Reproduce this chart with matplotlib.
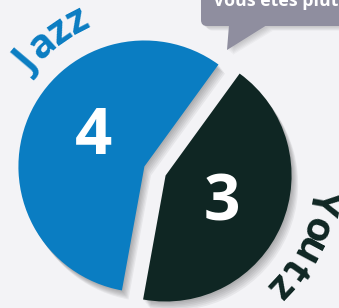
import matplotlib
matplotlib.use("Agg")
import matplotlib.pyplot as plt
from matplotlib.patches import FancyBboxPatch, Polygon
import numpy as np

# ---- data ----
categories = ["Jazz", "Youtz"]
values = [4, 3]
value_labels = ["4", "3"]
bubble_text = "Vous êtes plutôt"

# ---- style ----
colors = ["#0a7dc2", "#0f2623"]
bg = "#f3f3f6"
bubble_col = "#8f8e9f"
W, H = 339, 308

fig = plt.figure(figsize=(W / 100, H / 100), dpi=100, facecolor=bg)
ax = fig.add_axes([0, 0, 1, 1])
ax.set_facecolor(bg)

cx, cy = 155, H - 171
R = 126
start = 54
explode = [11.5, 11.5]  # pie explode offsets are in data units here

# soft drop shadow
for off in [2, 4, 6, 8, 10, 12]:
    ax.pie(values, explode=explode, startangle=start, radius=R,
           center=(cx + off * 0.55, cy - off * 0.75),
           colors=["#000000", "#000000"],
           wedgeprops=dict(alpha=0.05, linewidth=0), frame=True)

wedges, _ = ax.pie(values, explode=explode, startangle=start, radius=R,
                   center=(cx, cy), colors=colors,
                   wedgeprops=dict(linewidth=0), frame=True)

# value labels inside slices
ax.text(93, H - 138, value_labels[0], color="white", fontsize=47,
        fontweight="bold", family="Open Sans", ha="center", va="center")
ax.text(222, H - 204, value_labels[1], color="white", fontsize=46,
        fontweight="bold", family="Open Sans", ha="center", va="center")

# curved category labels
def curved(text, angles, r, color, size):
    for ch, a in zip(text, angles):
        t = np.deg2rad(a)
        ax.text(154 + r * np.cos(t), (H - 170) + r * np.sin(t), ch,
                rotation=a - 90, rotation_mode="anchor", ha="center",
                va="center", color=color, fontsize=size,
                fontweight="bold", family="Open Sans", zorder=6)

curved(categories[0], [139.8, 131.8, 124.4, 117.2], 167, colors[0], 29)
curved(categories[1], [-10.4, -20.3, -28.0, -35.0, -42.9], 171, colors[1], 29)

# speech bubble
for off in [1, 2, 3, 4, 5, 6]:
    ax.add_patch(FancyBboxPatch((201 + off, H - 26 - off * 0.8), 170, 60,
                 boxstyle="round,pad=0,rounding_size=6",
                 fc="#000000", ec="none", alpha=0.03, zorder=4))
    ax.add_patch(Polygon([(229 + off, H - 26 - off * 0.8),
                          (267 + off, H - 26 - off * 0.8),
                          (227 + off, H - 50 - off * 0.8)],
                         closed=True, fc="#000000", ec="none", alpha=0.03, zorder=4))
ax.add_patch(FancyBboxPatch((201, H - 26), 170, 60,
             boxstyle="round,pad=0,rounding_size=6",
             fc=bubble_col, ec="none", zorder=5))
ax.add_patch(Polygon([(229, H - 25), (267, H - 25), (227, H - 50)],
                     closed=True, fc=bubble_col, ec="none", zorder=5))
ax.text(213, H - 6, bubble_text, color="white", fontsize=12.8,
        fontweight="bold", family="Open Sans", ha="left", va="baseline",
        zorder=6)

ax.set_xlim(0, W)
ax.set_ylim(0, H)
ax.set_aspect("equal")
ax.axis("off")

fig.savefig("out.png", dpi=100, facecolor=bg)
